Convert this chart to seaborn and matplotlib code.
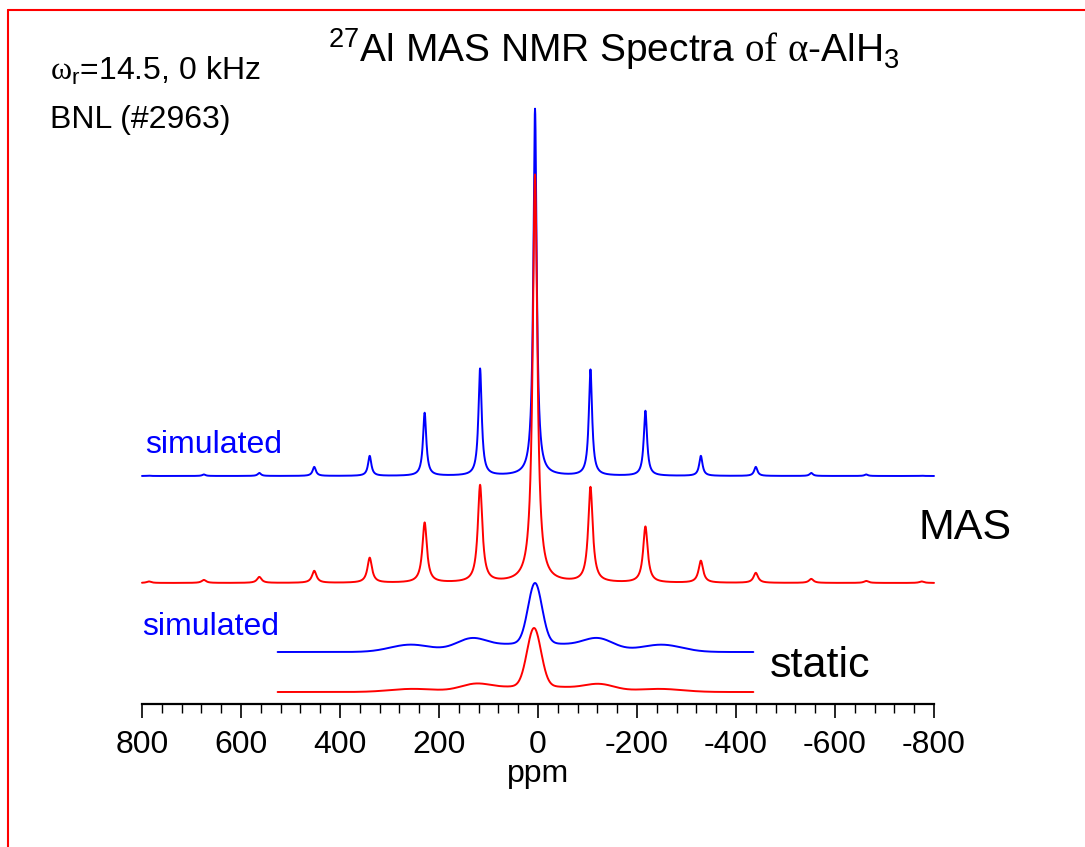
import numpy as np
import pandas as pd
import matplotlib
matplotlib.use("Agg")
import matplotlib.pyplot as plt
import seaborn as sns
from matplotlib.ticker import MultipleLocator
from matplotlib.lines import Line2D

# ---------------- data ----------------
# MAS spectra: spinning-sideband peak list (ppm) and peak heights (arb. units)
sideband_ppm = [786, 675, 563, 452, 340, 229, 117, 6, -106, -217, -329, -440, -552, -663, -775]
mas_sim_height = [0.3, 1.5, 3, 9, 20, 63, 107, 367, 106, 65, 20, 9, 3, 1.5, 0.3]
mas_exp_height = [1.5, 3, 6, 12, 25, 60, 97, 408, 95, 56, 22, 10, 4, 2, 1.5]
mas_sim_hwhm = 4.0     # Lorentzian half widths (ppm)
mas_exp_hwhm = 5.5

# static spectra: line-shape components (ppm, height, gaussian sigma in ppm)
static_sim_ppm = [6, 6, 135, -122, 259, -251]
static_sim_height = [60, 9, 10, 10, 7, 7]
static_sim_sigma = [14, 100, 30, 30, 40, 40]
static_exp_ppm = [8, 6, 127, -125, 255, -246]
static_exp_height = [58, 6, 6, 6, 3, 3]
static_exp_sigma = [14, 90, 30, 30, 45, 45]

# vertical stacking offsets of the four traces
offset_mas_sim = 228
offset_mas_exp = 121
offset_static_sim = 52
offset_static_exp = 12

mas_range = (800, -800)
static_range = (526, -435)

x_ticks = [800, 600, 400, 200, 0, -200, -400, -600, -800]


def lorentz_sum(x, pos, h, g):
    y = np.zeros_like(x)
    for p, a in zip(pos, h):
        y += a * g**2 / ((x - p) ** 2 + g**2)
    return y


def gauss_sum(x, pos, h, s):
    y = np.zeros_like(x)
    for p, a, w in zip(pos, h, s):
        y += a * np.exp(-((x - p) ** 2) / (2 * w**2))
    return y


x_mas = np.linspace(mas_range[0], mas_range[1], 3201)
x_st = np.linspace(static_range[0], static_range[1], 1923)

df_mas_sim = pd.DataFrame({"ppm": x_mas, "y": offset_mas_sim + lorentz_sum(x_mas, sideband_ppm, mas_sim_height, mas_sim_hwhm)})
df_mas_exp = pd.DataFrame({"ppm": x_mas, "y": offset_mas_exp + lorentz_sum(x_mas, sideband_ppm, mas_exp_height, mas_exp_hwhm)})
df_st_sim = pd.DataFrame({"ppm": x_st, "y": offset_static_sim + gauss_sum(x_st, static_sim_ppm, static_sim_height, static_sim_sigma)})
df_st_exp = pd.DataFrame({"ppm": x_st, "y": offset_static_exp + gauss_sum(x_st, static_exp_ppm, static_exp_height, static_exp_sigma)})

# ---------------- styling ----------------
sns.set_style("ticks")
plt.rcParams["font.family"] = ["Liberation Sans", "DejaVu Sans"]
plt.rcParams["text.color"] = "black"
plt.rcParams["mathtext.fontset"] = "custom"
plt.rcParams["mathtext.rm"] = "Liberation Sans"
plt.rcParams["mathtext.it"] = "Liberation Sans:italic"
plt.rcParams["mathtext.cal"] = "Liberation Serif"

W, H = 1085, 847
fig = plt.figure(figsize=(W / 100, H / 100), dpi=100)
ax = fig.add_axes([142 / W, (H - 704) / H, 792 / W, 600 / H])

BLUE = "#0000FF"
RED = "#FF0000"
lw = 1.4
sns.lineplot(data=df_mas_sim, x="ppm", y="y", color=BLUE, lw=lw, sort=False, estimator=None, ax=ax)
sns.lineplot(data=df_mas_exp, x="ppm", y="y", color=RED, lw=lw, sort=False, estimator=None, ax=ax)
sns.lineplot(data=df_st_sim, x="ppm", y="y", color=BLUE, lw=lw, sort=False, estimator=None, ax=ax)
sns.lineplot(data=df_st_exp, x="ppm", y="y", color=RED, lw=lw, sort=False, estimator=None, ax=ax)
for ln in ax.lines:
    ln.set_clip_on(False)

ax.set_xlim(800, -800)
ax.set_ylim(0, 600)
for s in ["left", "right", "top"]:
    ax.spines[s].set_visible(False)
ax.spines["bottom"].set_linewidth(1.6)
ax.spines["bottom"].set_color("black")
ax.set_yticks([])
ax.set_xticks(x_ticks)
ax.set_xticklabels([str(t) for t in x_ticks])
ax.xaxis.set_minor_locator(MultipleLocator(40))
ax.tick_params(axis="x", which="major", direction="out", length=10, width=1.2, pad=9,
               labelsize=23, colors="black")
ax.tick_params(axis="x", which="minor", direction="out", length=6.5, width=1.0, colors="black")
ax.set_xlabel("")
ax.set_ylabel("")


def P(x, y):
    return x / W, 1 - y / H


fig.text(*P(614, 62), r"$^{\mathrm{27}}$Al MAS NMR Spectra $\mathcal{of}\ \mathcal{α}$-AlH$_{\mathrm{3}}$",
         ha="center", va="baseline", fontsize=28, color="black")
fig.text(*P(50, 80), r"$\mathcal{ω}_{\mathrm{r}}$=14.5, 0 kHz", ha="left", va="baseline", fontsize=23, color="black")
fig.text(*P(50, 128), "BNL (#2963)", ha="left", va="baseline", fontsize=23, color="black")
fig.text(*P(145, 453), "simulated", ha="left", va="baseline", fontsize=23, color=BLUE)
fig.text(*P(142, 635), "simulated", ha="left", va="baseline", fontsize=23, color=BLUE)
fig.text(*P(919, 539), "MAS", ha="left", va="baseline", fontsize=31, color="black")
fig.text(*P(770, 677), "static", ha="left", va="baseline", fontsize=31, color="black")
fig.text(*P(538, 782), "ppm", ha="center", va="baseline", fontsize=23, color="black")

# red page frame
fig.add_artist(Line2D([8 / W, 8 / W], [0, 1 - 10 / H], transform=fig.transFigure, color=RED, lw=1.5))
fig.add_artist(Line2D([8 / W, 1], [1 - 10 / H, 1 - 10 / H], transform=fig.transFigure, color=RED, lw=1.5))

fig.savefig("out.png", dpi=100, facecolor="white")
